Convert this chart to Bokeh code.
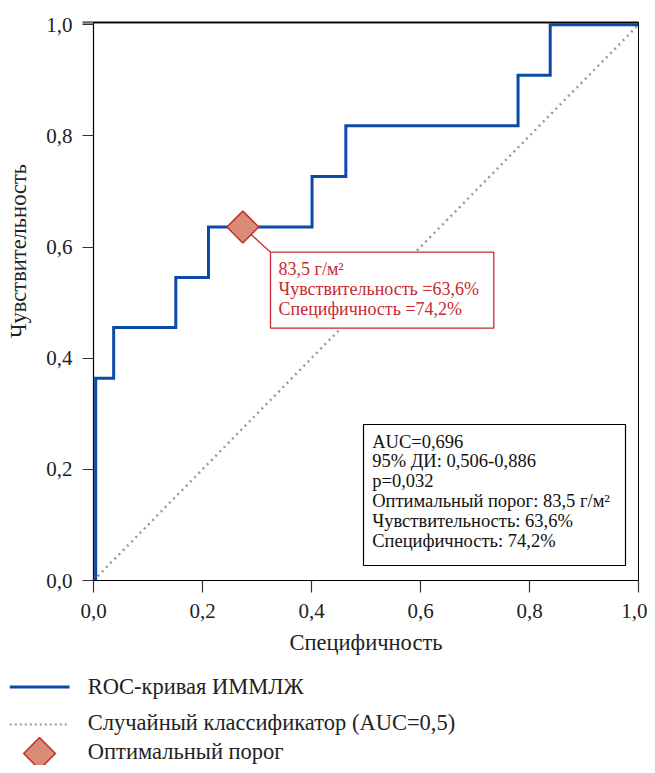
import numpy as np
from bokeh.plotting import figure
from bokeh.models import (Range1d, CustomJSTickFormatter, FixedTicker, Label,
                          BoxAnnotation)
from bokeh.embed import file_html
from bokeh.resources import INLINE

# ---------------- data ----------------
roc_fpr = [0.004, 0.004, 0.037, 0.037, 0.151, 0.151, 0.211, 0.211, 0.401, 0.401,
           0.463, 0.463, 0.779, 0.779, 0.838, 0.838, 1.0]
roc_tpr = [0.0, 0.364, 0.364, 0.455, 0.455, 0.545, 0.545, 0.636, 0.636, 0.727,
           0.727, 0.818, 0.818, 0.909, 0.909, 1.0, 1.0]
chance_x = [0.0, 1.0]
chance_y = [0.0, 1.0]
opt_fpr = [0.274]
opt_tpr = [0.636]
x_ticks = [0.0, 0.2, 0.4, 0.6, 0.8, 1.0]
y_ticks = [0.0, 0.2, 0.4, 0.6, 0.8, 1.0]
x_label = "Специфичность"
y_label = "Чувствительность"
opt_lines = ["83,5 г/м²", "Чувствительность =63,6%", "Специфичность =74,2%"]
info_lines = ["AUC=0,696", "95% ДИ: 0,506-0,886", "p=0,032",
              "Оптимальный порог: 83,5 г/м²", "Чувствительность: 63,6%",
              "Специфичность: 74,2%"]
legend_labels = ["ROC-кривая ИММЛЖ", "Случайный классификатор (AUC=0,5)", "Оптимальный порог"]

FONT = "Liberation Serif"
BLUE = "#0b4aa6"
GRAY = "#9a9a9a"
RED = "#c52a33"
SALMON = "#d98b74"
TXT = "#222222"

# ---------------- layout geometry (canvas pixels) ----------------
W, H = 647, 765
PL, PR, PT, PB = 93, 638, 22, 580            # plotting area edges
Y_END = 1.004
sx = (PR - PL) / 1.0
sy = (PB - PT) / Y_END


def dx(px):   # canvas px -> data x
    return (px - PL) / sx


def dy(py):   # canvas px (from top) -> data y
    return (PB - py) / sy


# ---------------- figure: frame covers the whole canvas ----------------
p = figure(width=W, height=H, x_range=Range1d(dx(0), dx(W)), y_range=Range1d(dy(H), dy(0)),
           output_backend="svg", toolbar_location=None, min_border=0)
p.grid.visible = False
p.outline_line_color = None
p.background_fill_color = "white"
p.border_fill_color = "white"

fmt = CustomJSTickFormatter(code="return tick.toFixed(1).replace('.', ',');")
p.xaxis.ticker = FixedTicker(ticks=x_ticks)
p.yaxis.ticker = FixedTicker(ticks=y_ticks)
p.xaxis.formatter = fmt
p.yaxis.formatter = fmt
p.xaxis.fixed_location = 0
p.yaxis.fixed_location = 0
p.xaxis.bounds = (0, 1)
p.yaxis.bounds = (0, 1)
p.axis.minor_tick_line_color = None
p.axis.axis_line_color = "black"
p.axis.axis_line_width = 1.2
p.axis.major_tick_line_color = "#333333"
p.axis.major_tick_line_width = 1.2
p.axis.major_tick_in = 0
p.xaxis.major_tick_out = 12
p.yaxis.major_tick_out = 11
p.axis.major_label_text_font = FONT
p.axis.major_label_text_font_size = "21px"
p.axis.major_label_text_color = TXT
p.xaxis.major_label_standoff = 11
p.yaxis.major_label_standoff = 10

# plot-area border: thin black box, gray top edge
p.add_layout(BoxAnnotation(left=0, right=1, bottom=0, top=Y_END, fill_alpha=0,
                           line_color="black", line_alpha=1.0, line_width=1))
p.line([dx(82), 1.0], [Y_END, Y_END], line_color="#6a6a6a", line_width=2.5)

# axis titles
p.add_layout(Label(x=0.5, y=dy(642), text=x_label, text_align="center",
                   text_baseline="middle", text_font=FONT,
                   text_font_size="22.5px", text_color=TXT))
p.add_layout(Label(x=dx(18), y=dy(250.5), text=y_label, angle=np.pi / 2,
                   text_align="center", text_baseline="middle", text_font=FONT,
                   text_font_size="22.5px", text_color=TXT))

# chance line
p.line(chance_x, chance_y, line_color=GRAY, line_width=2.5, line_dash="2 4")
# ROC curve
p.line(roc_fpr, roc_tpr, line_color=BLUE, line_width=3, line_join="miter")

# annotation for optimal threshold
bl, br, bt, bb = dx(270), dx(493.3), dy(251.7), dy(327.7)
p.line([opt_fpr[0], bl], [opt_tpr[0], bt], line_color=RED, line_width=1.3)
p.add_layout(BoxAnnotation(left=bl, right=br, top=bt, bottom=bb, fill_color="white",
                           fill_alpha=1.0, line_color=RED, line_alpha=1.0, line_width=1.3))
for i, t in enumerate(opt_lines):
    p.add_layout(Label(x=dx(278), y=dy(268 + 20 * i), text=t, text_font=FONT,
                       text_font_size="18px", text_color=RED, text_baseline="middle"))

p.scatter(opt_fpr, opt_tpr, marker="square", angle=np.pi / 4, size=22.5,
          fill_color=SALMON, line_color=RED, line_width=1.5)

# info box
p.add_layout(BoxAnnotation(left=dx(363), right=dx(625), top=dy(424), bottom=dy(565),
                           fill_color="white", fill_alpha=1.0, line_color="black",
                           line_alpha=1.0, line_width=1.2))
for i, t in enumerate(info_lines):
    p.add_layout(Label(x=dx(371.7), y=dy(441 + 19.9 * i), text=t, text_font=FONT,
                       text_font_size="18.5px", text_color="#111111",
                       text_baseline="middle"))

# ---------------- legend (below the plot) ----------------
row_py = [685.5, 722, 751]
p.line([dx(9.3), dx(69)], [dy(row_py[0] + 1)] * 2, line_color=BLUE, line_width=3)
p.line([dx(9.3), dx(69)], [dy(row_py[1] + 2)] * 2, line_color=GRAY, line_width=2,
       line_dash="2 3")
p.scatter([dx(39)], [dy(row_py[2] + 2)], marker="square", angle=np.pi / 4, size=22.5,
          fill_color=SALMON, line_color=RED, line_width=1.5)
for t, ry in zip(legend_labels, row_py):
    p.add_layout(Label(x=dx(87.3), y=dy(ry), text=t, text_font=FONT,
                       text_font_size="22.5px", text_color=TXT,
                       text_baseline="middle"))

open("out.html", "w").write(file_html(p, INLINE))
